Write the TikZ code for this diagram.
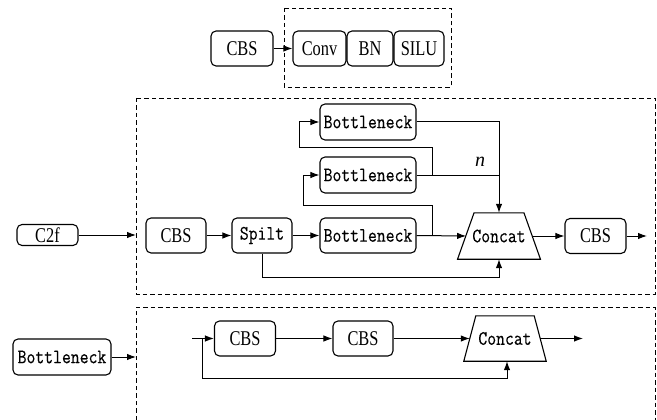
\documentclass[tikz,border=0pt]{standalone}
\usepackage{fontspec}
\usetikzlibrary{arrows.meta}
\newfontfamily\labfont[FakeStretch=0.78]{Liberation Serif}
\newfontfamily\codefont[FakeStretch=0.84,FakeBold=0.3]{Latin Modern Mono}
\newfontfamily\varfont{Liberation Serif}

\begin{document}
\begin{tikzpicture}[x=1pt,y=-1pt,
  blk/.style={draw, rounded corners=5pt, line width=1.1pt, inner sep=0pt, minimum height=35pt},
  serifbox/.style={blk, font=\labfont\fontsize{21}{22}\selectfont},
  monobox/.style={blk, font=\codefont\fontsize{20.5}{21}\selectfont},
  trapbody/.style={inner sep=0pt, font=\codefont\fontsize{20.5}{21}\selectfont},
  trapline/.style={line width=1.1pt, line join=miter},
  arr/.style={line width=1pt, -{Latex[length=9pt,width=6.5pt]}},
  ln/.style={line width=1pt},
  frame/.style={dashed, dash pattern=on 4.5pt off 3pt, line width=0.9pt}]

\useasboundingbox (0,0) rectangle (657,420);

% ---------- CBS = Conv + BN + SiLU ----------
\draw[frame] (284,8) rectangle (451,87);
\node[serifbox, minimum width=62pt] (cbsA) at (242,48.5) {CBS};
\node[serifbox, minimum width=53pt] (conv) at (319.5,48.5) {Conv};
\node[serifbox, minimum width=46pt] (bn) at (370,48.5) {BN};
\node[serifbox, minimum width=50pt] (silu) at (419,48.5) {SILU};
\draw[arr] (cbsA) -- (conv);

% ---------- C2f module ----------
\draw[frame] (136,98) rectangle (655,294);
\node[serifbox, minimum width=61pt, minimum height=21pt] (c2f) at (47.5,235) {C2f};
\coordinate (c2fin) at (136,235);
\draw[arr] (c2f) -- (c2fin);

\node[serifbox, minimum width=60pt] (cbsB) at (176,235.5) {CBS};
\node[monobox, minimum width=60pt] (spl) at (262,235.5) {Spilt};
\node[monobox, minimum width=96pt] (bk3) at (368,235.5) {Bottleneck};
\node[monobox, minimum width=96pt, minimum height=36pt] (bk2) at (368,175) {Bottleneck};
\node[monobox, minimum width=96pt, minimum height=36pt] (bk1) at (368,122) {Bottleneck};

% concat: body box spans the trapezoid at mid height
\node[trapbody, minimum width=65.5pt, minimum height=46pt] (cat) at (499,236) {Concat};
\draw[trapline] ([xshift=8pt]cat.north west) -- ([xshift=-8pt]cat.north east)
  -- ([xshift=8.5pt]cat.south east) -- ([xshift=-8.5pt]cat.south west) -- cycle;

\node[serifbox, minimum width=61pt] (cbsC) at (595.5,236) {CBS};
\coordinate (outC) at (647,236);

\draw[arr] (cbsB) -- (spl);
\draw[arr] (spl) -- (bk3);
\draw[arr] (bk3.east) -- (cat.west);
\draw[arr] (cat) -- (cbsC);
\draw[arr] (cbsC) -- (outC);

% loops feeding the stacked bottlenecks
\coordinate (tap3) at (432,235.5);
\coordinate (up3) at (432,205);
\coordinate (back3) at (303,205);
\draw[arr] (tap3) -- (up3) -- (back3) |- (bk2.west);
\coordinate (tap2) at (432,175);
\coordinate (up2) at (432,148);
\coordinate (back2) at (299,148);
\draw[arr] (tap2) -- (up2) -- (back2) |- (bk1.west);

\coordinate (join2) at (499,175);
\draw[ln] (bk2.east) -- (join2);
\draw[arr] (bk1.east) -| (cat.north);
\node[font=\varfont\itshape\fontsize{20}{20}\selectfont] (nlab) at (480,162) {n};

% split branch straight to the concat
\coordinate (sbot) at (262,277);
\coordinate (sjoin) at (499,277);
\draw[arr] (spl.south) -- (sbot) -- (sjoin) -- (cat.south);

% ---------- Bottleneck module ----------
\draw[frame] (136,420) -- (136,307) -- (655,307) -- (655,420);
\node[monobox, minimum width=98pt, minimum height=36pt] (bkB) at (62,357) {Bottleneck};
\coordinate (bkin) at (136,357);
\draw[arr] (bkB) -- (bkin);

\node[serifbox, minimum width=61pt] (cbsD) at (245,338.5) {CBS};
\node[serifbox, minimum width=60pt] (cbsE) at (363,338.5) {CBS};
\node[trapbody, minimum width=70pt, minimum height=45pt] (catB) at (505,338.5) {Concat};
\draw[trapline] ([xshift=6pt]catB.north west) -- ([xshift=-6pt]catB.north east)
  -- ([xshift=6pt]catB.south east) -- ([xshift=-6pt]catB.south west) -- cycle;

\coordinate (inB) at (192,338.5);
\coordinate (tapB) at (202,338.5);
\coordinate (downB) at (202,378);
\coordinate (rightB) at (507,378);
\coordinate (outB) at (583,338.5);

\draw[arr] (inB) -- (cbsD);
\draw[arr] (cbsD) -- (cbsE);
\draw[arr] (cbsE) -- (catB);
\draw[arr] (catB) -- (outB);
\draw[arr] (tapB) -- (downB) -- (rightB) -- (rightB |- catB.south);

\end{tikzpicture}
\end{document}
